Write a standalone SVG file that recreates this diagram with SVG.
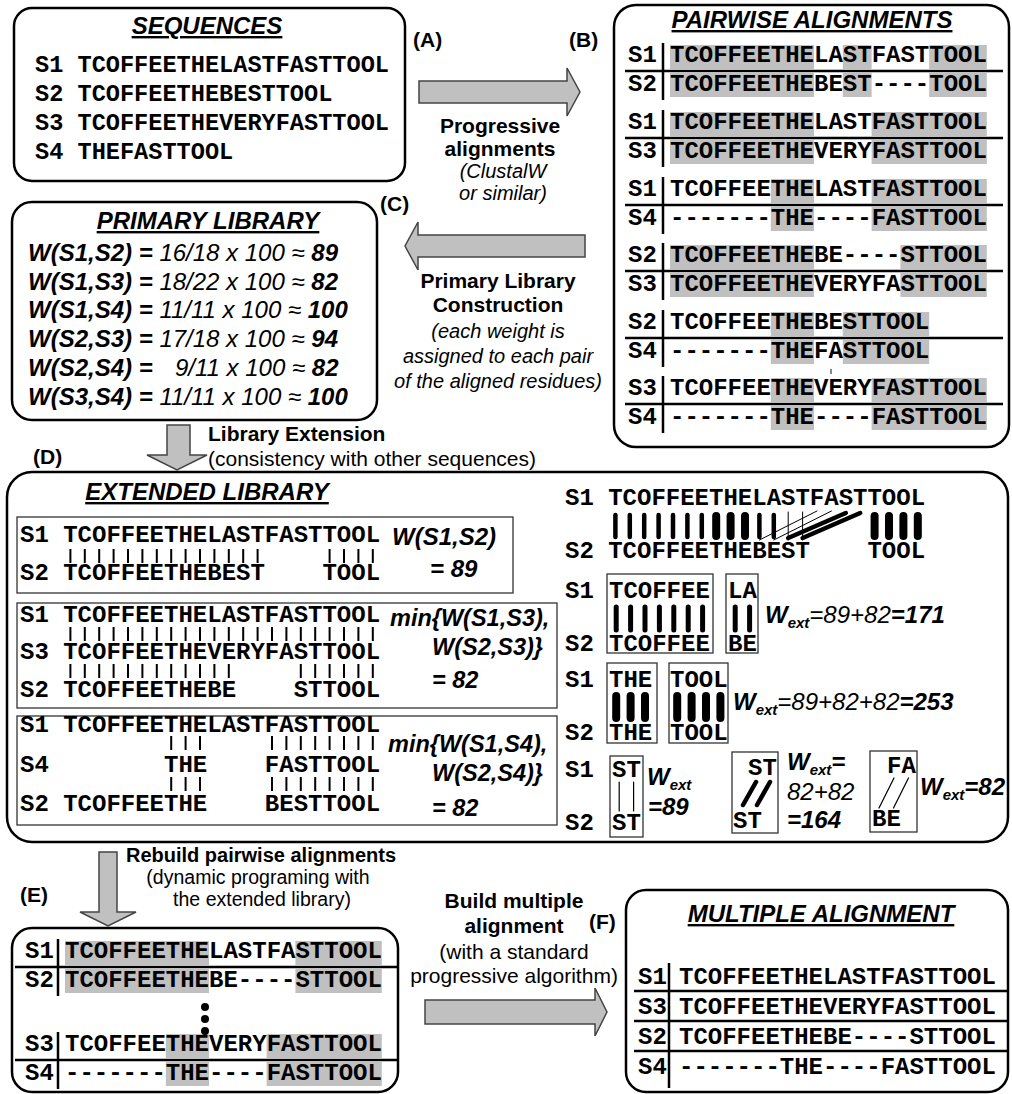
<svg xmlns="http://www.w3.org/2000/svg" width="1012" height="1094" viewBox="0 0 1012 1094">
<style>
.box{fill:none;stroke:#000;stroke-width:2.5}
.ib{fill:none;stroke:#333;stroke-width:1.3}
.hl{fill:#c0c0c0}
.arr{fill:#c0c0c0;stroke:#444;stroke-width:1.5}
.sep{stroke:#000;stroke-width:2.5}
.bar{stroke:#000;stroke-width:2;fill:none}
.rb{stroke:#000;fill:none;stroke-linecap:round}
.m{font-family:"Liberation Mono","Courier New",monospace;font-weight:bold;font-size:24px;fill:#000}
.t{font-family:"Liberation Sans",Arial,sans-serif;font-weight:bold;font-style:italic;font-size:24px;text-decoration:underline;text-anchor:middle}
.lb{font-family:"Liberation Sans",Arial,sans-serif;font-weight:bold;font-size:21px}
.rg{font-family:"Liberation Sans",Arial,sans-serif;font-size:21px}
.it{font-family:"Liberation Sans",Arial,sans-serif;font-style:italic;font-size:20px}
.f{font-family:"Liberation Sans",Arial,sans-serif;font-size:24px;font-style:italic}
.bi{font-weight:bold}
.c{text-anchor:middle}
</style>

<!-- A: sequences -->
<g id="node-sequences">
<rect class="box" x="14" y="8" width="391" height="173" rx="18"/>
<text class="t" x="207" y="34">SEQUENCES</text>
<text class="m" style="font-size:23.6px" x="35" y="72">S1 TCOFFEETHELASTFASTTOOL</text>
<text class="m" style="font-size:23.6px" x="35" y="101">S2 TCOFFEETHEBESTTOOL</text>
<text class="m" style="font-size:23.6px" x="35" y="130">S3 TCOFFEETHEVERYFASTTOOL</text>
<text class="m" style="font-size:23.6px" x="35" y="159">S4 THEFASTTOOL</text>
</g>

<!-- B: pairwise alignments -->
<g id="node-pairwise">
<rect class="box" x="614" y="5" width="395" height="442" rx="22"/>
<text class="t" x="812" y="28">PAIRWISE ALIGNMENTS</text>
<g id="pw-highlights">
<rect class="hl" x="670" y="45" width="144" height="24"/><rect class="hl" x="842.8" y="45" width="28.8" height="24"/><rect class="hl" x="929.2" y="45" width="57.6" height="24"/>
<rect class="hl" x="670" y="73" width="144" height="24"/><rect class="hl" x="842.8" y="73" width="28.8" height="24"/><rect class="hl" x="929.2" y="73" width="57.6" height="24"/>
<rect class="hl" x="670" y="112" width="144" height="24"/><rect class="hl" x="871.6" y="112" width="115.2" height="24"/>
<rect class="hl" x="670" y="140" width="144" height="24"/><rect class="hl" x="871.6" y="140" width="115.2" height="24"/>
<rect class="hl" x="770.8" y="179" width="43.2" height="24"/><rect class="hl" x="871.6" y="179" width="115.2" height="24"/>
<rect class="hl" x="770.8" y="207" width="43.2" height="24"/><rect class="hl" x="871.6" y="207" width="115.2" height="24"/>
<rect class="hl" x="670" y="245" width="144" height="24"/><rect class="hl" x="900.4" y="245" width="86.4" height="24"/>
<rect class="hl" x="670" y="273" width="144" height="24"/><rect class="hl" x="900.4" y="273" width="86.4" height="24"/>
<rect class="hl" x="770.8" y="312" width="43.2" height="24"/><rect class="hl" x="842.8" y="312" width="86.4" height="24"/>
<rect class="hl" x="770.8" y="340" width="43.2" height="24"/><rect class="hl" x="842.8" y="340" width="86.4" height="24"/>
<rect class="hl" x="770.8" y="378" width="43.2" height="24"/><rect class="hl" x="871.6" y="378" width="115.2" height="24"/>
<rect class="hl" x="770.8" y="406" width="43.2" height="24"/><rect class="hl" x="871.6" y="406" width="115.2" height="24"/>
<rect x="830" y="369" width="2" height="5" fill="#888"/>
</g>
<path class="sep" d="M625,71H1003M625,138H1003M625,205H1003M625,271H1003M625,338H1003M625,404H1003"/>
<path class="sep" d="M663,43V100M663,110V167M663,177V234M663,243V300M663,310V367M663,376V433"/>
<text class="m" x="628" y="62">S1</text><text class="m" x="670" y="62">TCOFFEETHELASTFASTTOOL</text>
<text class="m" x="628" y="91">S2</text><text class="m" x="670" y="91">TCOFFEETHEBEST----TOOL</text>
<text class="m" x="628" y="129">S1</text><text class="m" x="670" y="129">TCOFFEETHELASTFASTTOOL</text>
<text class="m" x="628" y="158">S3</text><text class="m" x="670" y="158">TCOFFEETHEVERYFASTTOOL</text>
<text class="m" x="628" y="196">S1</text><text class="m" x="670" y="196">TCOFFEETHELASTFASTTOOL</text>
<text class="m" x="628" y="225">S4</text><text class="m" x="670" y="225">-------THE----FASTTOOL</text>
<text class="m" x="628" y="262">S2</text><text class="m" x="670" y="262">TCOFFEETHEBE----STTOOL</text>
<text class="m" x="628" y="291">S3</text><text class="m" x="670" y="291">TCOFFEETHEVERYFASTTOOL</text>
<text class="m" x="628" y="329">S2</text><text class="m" x="670" y="329">TCOFFEETHEBESTTOOL</text>
<text class="m" x="628" y="358">S4</text><text class="m" x="670" y="358">-------THEFASTTOOL</text>
<text class="m" x="628" y="395">S3</text><text class="m" x="670" y="395">TCOFFEETHEVERYFASTTOOL</text>
<text class="m" x="628" y="424">S4</text><text class="m" x="670" y="424">-------THE----FASTTOOL</text>
</g>

<!-- C: primary library -->
<g id="node-primary">
<rect class="box" x="12" y="202" width="365" height="218" rx="20"/>
<text class="t" x="208" y="229">PRIMARY LIBRARY</text>
<text class="f" x="28" y="261" xml:space="preserve"><tspan class="bi">W(S1,S2) = </tspan>16/18 x 100 ≈ <tspan class="bi">89</tspan></text>
<text class="f" x="28" y="290" xml:space="preserve"><tspan class="bi">W(S1,S3) = </tspan>18/22 x 100 ≈ <tspan class="bi">82</tspan></text>
<text class="f" x="28" y="318" xml:space="preserve"><tspan class="bi">W(S1,S4) = </tspan>11/11 x 100 ≈ <tspan class="bi">100</tspan></text>
<text class="f" x="28" y="347" xml:space="preserve"><tspan class="bi">W(S2,S3) = </tspan>17/18 x 100 ≈ <tspan class="bi">94</tspan></text>
<text class="f" x="28" y="376" xml:space="preserve"><tspan class="bi">W(S2,S4) = </tspan><tspan x="175">9/11 x 100 ≈ </tspan><tspan class="bi">82</tspan></text>
<text class="f" x="28" y="405" xml:space="preserve"><tspan class="bi">W(S3,S4) = </tspan>11/11 x 100 ≈ <tspan class="bi">100</tspan></text>
</g>

<!-- D: extended library -->
<g id="node-extended">
<rect class="box" x="7" y="472" width="1001" height="370" rx="25"/>
<text class="t" x="207" y="500">EXTENDED LIBRARY</text>
<g id="ext-box1">
<rect class="ib" x="17" y="517" width="496" height="76"/>
<text class="m" x="20" y="542" xml:space="preserve">S1 TCOFFEETHELASTFASTTOOL</text>
<text class="m" x="20" y="580" xml:space="preserve">S2 TCOFFEETHEBEST    TOOL</text>
<path class="bar" d="M70.4,549V563M84.8,549V563M99.2,549V563M113.6,549V563M128,549V563M142.4,549V563M156.8,549V563M171.2,549V563M185.6,549V563M200,549V563M214.4,549V563M228.8,549V563M243.2,549V563M257.6,549V563M329.6,549V563M344,549V563M358.4,549V563M372.8,549V563"/>
<text class="f bi" x="392" y="545">W(S1,S2)</text>
<text class="f bi" x="430" y="577">= 89</text>
</g>
<g id="ext-box2">
<rect class="ib" x="17" y="603" width="540" height="105"/>
<text class="m" x="20" y="622" xml:space="preserve">S1 TCOFFEETHELASTFASTTOOL</text>
<text class="m" x="20" y="659" xml:space="preserve">S3 TCOFFEETHEVERYFASTTOOL</text>
<text class="m" x="20" y="697" xml:space="preserve">S2 TCOFFEETHEBE    STTOOL</text>
<path class="bar" d="M70.4,627V641M84.8,627V641M99.2,627V641M113.6,627V641M128,627V641M142.4,627V641M156.8,627V641M171.2,627V641M185.6,627V641M200,627V641M214.4,627V641M228.8,627V641M243.2,627V641M257.6,627V641M272,627V641M286.4,627V641M300.8,627V641M315.2,627V641M329.6,627V641M344,627V641M358.4,627V641M372.8,627V641"/>
<path class="bar" d="M70.4,664V678M84.8,664V678M99.2,664V678M113.6,664V678M128,664V678M142.4,664V678M156.8,664V678M171.2,664V678M185.6,664V678M200,664V678M214.4,664V678M228.8,664V678M300.8,664V678M315.2,664V678M329.6,664V678M344,664V678M358.4,664V678M372.8,664V678"/>
<text class="f bi" x="390" y="626" style="font-size:23.5px">min{W(S1,S3),</text>
<text class="f bi" x="432" y="655" style="font-size:23.5px">W(S2,S3)}</text>
<text class="f bi" x="432" y="688" style="font-size:23.5px">= 82</text>
</g>
<g id="ext-box3">
<rect class="ib" x="17" y="716" width="540" height="109"/>
<text class="m" x="20" y="732" xml:space="preserve">S1 TCOFFEETHELASTFASTTOOL</text>
<text class="m" x="20" y="772" xml:space="preserve">S4        THE    FASTTOOL</text>
<text class="m" x="20" y="811" xml:space="preserve">S2 TCOFFEETHE    BESTTOOL</text>
<path class="bar" d="M171.2,736V750M185.6,736V750M200,736V750M272,736V750M286.4,736V750M300.8,736V750M315.2,736V750M329.6,736V750M344,736V750M358.4,736V750M372.8,736V750"/>
<path class="bar" d="M171.2,777V791M185.6,777V791M200,777V791M272,777V791M286.4,777V791M300.8,777V791M315.2,777V791M329.6,777V791M344,777V791M358.4,777V791M372.8,777V791"/>
<text class="f bi" x="388" y="752" style="font-size:23.5px">min{W(S1,S4),</text>
<text class="f bi" x="432" y="781" style="font-size:23.5px">W(S2,S4)}</text>
<text class="f bi" x="432" y="816" style="font-size:23.5px">= 82</text>
</g>
<g id="ext-right">
<text class="m" x="565" y="505" xml:space="preserve">S1 TCOFFEETHELASTFASTTOOL</text>
<text class="m" x="565" y="558" xml:space="preserve">S2 TCOFFEETHEBEST    TOOL</text>
<path class="rb" stroke-width="4.5" d="M615.4,515V537M629.8,515V537M644.2,515V537M658.6,515V537M673,515V537M687.4,515V537M701.8,515V537M759.4,515V537M773.8,515V537"/>
<path class="rb" stroke-width="8" d="M716.2,516V536M730.6,516V536M745,516V536M874.6,516V536M889,516V536M903.4,516V536M917.8,516V536"/>
<path class="rb" stroke-width="1" d="M788.2,512V540M802.6,512V540M817,511L759.4,540M831.4,511L773.8,540"/>
<path class="rb" stroke-width="4.5" d="M845.8,513L788.2,538M860.2,513L802.6,538"/>

<text class="m" x="565" y="598">S1</text>
<text class="m" x="565" y="651">S2</text>
<rect class="ib" x="607" y="574" width="106" height="79"/>
<text class="m" x="609" y="598">TCOFFEE</text>
<text class="m" x="609" y="651">TCOFFEE</text>
<path class="rb" stroke-width="5" d="M616.2,607V630M630.6,607V630M645,607V630M659.4,607V630M673.8,607V630M688.2,607V630M702.6,607V630"/>
<rect class="ib" x="726" y="574" width="32" height="79"/>
<text class="m" x="728" y="598">LA</text>
<text class="m" x="728" y="651">BE</text>
<path class="rb" stroke-width="5" d="M735.2,607V630M749.6,607V630"/>
<text class="f" x="765" y="623"><tspan class="bi">W</tspan><tspan class="bi" font-size="15" dy="5">ext</tspan><tspan dy="-5">=89+82</tspan><tspan class="bi">=171</tspan></text>

<text class="m" x="565" y="687">S1</text>
<text class="m" x="565" y="740">S2</text>
<rect class="ib" x="607" y="663" width="50" height="80"/>
<text class="m" x="609" y="687">THE</text>
<text class="m" x="609" y="740">THE</text>
<path class="rb" stroke-width="8" d="M616.2,696V718M630.6,696V718M645,696V718"/>
<rect class="ib" x="669" y="663" width="59" height="80"/>
<text class="m" x="670" y="687">TOOL</text>
<text class="m" x="670" y="740">TOOL</text>
<path class="rb" stroke-width="8" d="M677.2,696V718M691.6,696V718M706,696V718M720.4,696V718"/>
<text class="f" x="733" y="710"><tspan class="bi">W</tspan><tspan class="bi" font-size="15" dy="5">ext</tspan><tspan dy="-5">=89+82+82</tspan><tspan class="bi">=253</tspan></text>

<text class="m" x="565" y="777">S1</text>
<text class="m" x="565" y="830">S2</text>
<rect class="ib" x="610" y="756" width="33" height="81"/>
<text class="m" x="612" y="777">ST</text>
<text class="m" x="612" y="830">ST</text>
<path class="rb" stroke-width="1.2" d="M619.2,782V811M633.6,782V811"/>
<text class="f bi" x="647" y="785">W<tspan font-size="15" dy="5">ext</tspan></text>
<text class="f bi" x="648" y="815">=89</text>

<rect class="ib" x="732" y="752" width="46" height="81"/>
<text class="m" x="748" y="775">ST</text>
<text class="m" x="733" y="828">ST</text>
<path class="rb" stroke-width="4.5" d="M756,782L743,805M770,782L757,805"/>
<text class="f" x="787" y="770"><tspan class="bi">W</tspan><tspan class="bi" font-size="15" dy="5">ext</tspan><tspan class="bi" dy="-5">=</tspan></text>
<text class="f" x="787" y="800">82+82</text>
<text class="f bi" x="787" y="828">=164</text>

<rect class="ib" x="870" y="751" width="47" height="81"/>
<text class="m" x="887" y="773">FA</text>
<text class="m" x="872" y="826">BE</text>
<path class="rb" stroke-width="1.2" d="M894,778L879,808M908.5,778L893.5,808"/>
<text class="f bi" x="920" y="795">W<tspan font-size="15" dy="5">ext</tspan><tspan dy="-5">=82</tspan></text>
</g>
</g>

<!-- E: rebuilt pairwise -->
<g id="node-rebuilt">
<rect class="box" x="12" y="928" width="386" height="164" rx="20"/>
<rect class="hl" x="65" y="941" width="144" height="24"/><rect class="hl" x="295.4" y="941" width="86.4" height="24"/>
<rect class="hl" x="65" y="969" width="144" height="24"/><rect class="hl" x="295.4" y="969" width="86.4" height="24"/>
<rect class="hl" x="165.8" y="1034" width="43.2" height="24"/><rect class="hl" x="266.6" y="1034" width="115.2" height="24"/>
<rect class="hl" x="165.8" y="1062" width="43.2" height="24"/><rect class="hl" x="266.6" y="1062" width="115.2" height="24"/>
<path class="sep" d="M15,967H398M15,1060H398M58,939V996M58,1032V1089"/>
<text class="m" x="25" y="958">S1</text><text class="m" x="65" y="958">TCOFFEETHELASTFASTTOOL</text>
<text class="m" x="25" y="987">S2</text><text class="m" x="65" y="987">TCOFFEETHEBE----STTOOL</text>
<circle cx="205" cy="1007" r="4"/><circle cx="205" cy="1019" r="4"/><circle cx="205" cy="1031" r="4"/>
<text class="m" x="25" y="1051">S3</text><text class="m" x="65" y="1051">TCOFFEETHEVERYFASTTOOL</text>
<text class="m" x="25" y="1080">S4</text><text class="m" x="65" y="1080">-------THE----FASTTOOL</text>
</g>

<!-- F: multiple alignment -->
<g id="node-multiple">
<rect class="box" x="626" y="890" width="382" height="202" rx="20"/>
<text class="t" x="821" y="922">MULTIPLE ALIGNMENT</text>
<path class="sep" d="M634,991H1008M634,1021H1008M634,1051H1008M669,963V1088"/>
<text class="m" x="638" y="984">S1</text><text class="m" x="679" y="984">TCOFFEETHELASTFASTTOOL</text>
<text class="m" x="638" y="1014">S3</text><text class="m" x="679" y="1014">TCOFFEETHEVERYFASTTOOL</text>
<text class="m" x="638" y="1044">S2</text><text class="m" x="679" y="1044">TCOFFEETHEBE----STTOOL</text>
<text class="m" x="638" y="1074">S4</text><text class="m" x="679" y="1074">-------THE----FASTTOOL</text>
</g>

<!-- connectors -->
<g id="connectors">
<path class="arr" d="M419,81H567V68L580,92L567,116V103H419Z"/>
<path class="arr" d="M585,235H418V222L405,246L418,270V257H585Z"/>
<path class="arr" d="M167,425H190V455H207L177,470L147,455H167Z"/>
<path class="arr" d="M99,852H117V912H136L108,926L80,912H99Z"/>
<path class="arr" d="M425,1000H595V988L607,1012L595,1036V1024H425Z"/>
</g>

<!-- labels -->
<g id="labels">
<text class="lb" x="413" y="47">(A)</text>
<text class="lb" x="569" y="47">(B)</text>
<text class="lb" x="380" y="211">(C)</text>
<text class="lb" x="33" y="464">(D)</text>
<text class="lb" x="20" y="902">(E)</text>
<text class="lb" x="589" y="929">(F)</text>
<text class="lb c" x="500" y="133">Progressive</text>
<text class="lb c" x="500" y="156">alignments</text>
<text class="it c" x="503" y="178">(ClustalW</text>
<text class="it c" x="503" y="200">or similar)</text>
<text class="lb c" x="498" y="288">Primary Library</text>
<text class="lb c" x="498" y="312">Construction</text>
<text class="it c" x="498" y="338">(each weight is</text>
<text class="it c" x="498" y="363">assigned to each pair</text>
<text class="it c" x="498" y="388">of the aligned residues)</text>
<text class="lb" x="208" y="441">Library Extension</text>
<text class="rg" x="208" y="466">(consistency with other sequences)</text>
<text class="lb c" x="261" y="862" style="font-size:20px">Rebuild pairwise alignments</text>
<text class="rg c" x="258" y="884" style="font-size:19.5px">(dynamic programing with</text>
<text class="rg c" x="262" y="906" style="font-size:19.5px">the extended library)</text>
<text class="lb c" x="514" y="908">Build multiple</text>
<text class="lb c" x="514" y="933">alignment</text>
<text class="rg c" x="514" y="959">(with a standard</text>
<text class="rg c" x="514" y="983">progressive algorithm)</text>
</g>
</svg>
